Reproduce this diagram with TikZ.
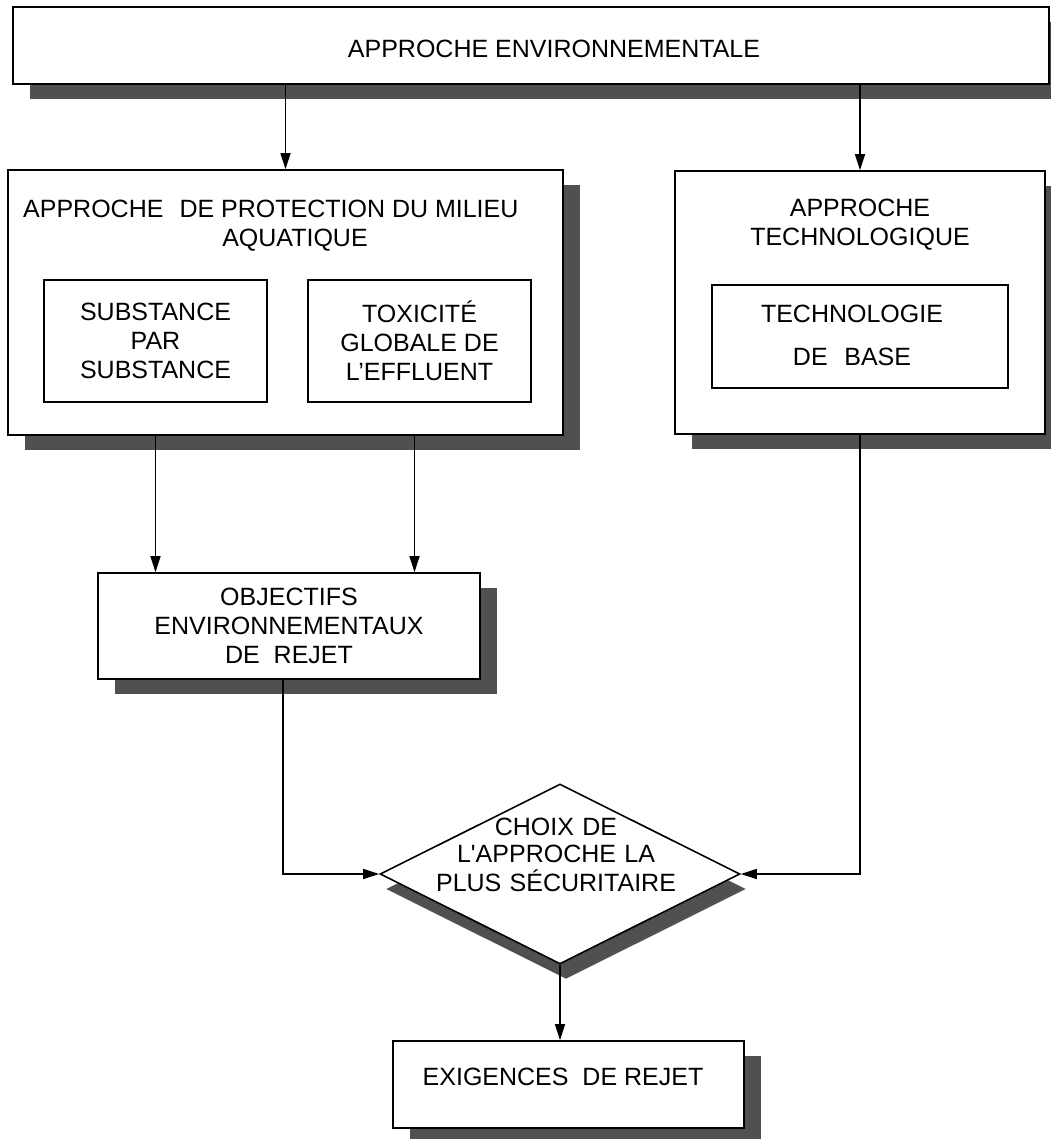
\documentclass[tikz,border=0pt]{standalone}
\usepackage{fontspec}
\setmainfont{Liberation Sans}
\usetikzlibrary{positioning, calc, shapes.geometric, shadows, arrows.meta}
\definecolor{ink}{HTML}{000000}
\definecolor{shade}{HTML}{505050}
\newcommand{\BoxF}{\fontsize{25}{29}\selectfont}

\begin{document}
\begin{tikzpicture}[x=1pt, y=-1pt,
    frame/.style={draw=ink, line width=1.6pt, fill=white, inner sep=0pt},
    panel/.style={frame,
      drop shadow={shadow xshift=17pt, shadow yshift=-15pt, fill=shade, opacity=1}},
    subpanel/.style={draw=ink, line width=1.3pt, fill=white, inner sep=0pt,
      font=\BoxF, align=center},
    txt/.style={font=\BoxF, inner sep=0pt, align=center},
    link/.style={draw=ink, line width=1.3pt, -{Triangle[length=16pt, width=10pt]}}]
  \useasboundingbox (0,0) rectangle (1050,1139);

  % top level
  \node[panel, minimum width=1036pt, minimum height=77pt] (envbox) at (531,45.5) {};
  \node[txt, anchor=base] (envtxt) at (554,58) {APPROCHE ENVIRONNEMENTALE};

  % aquatic approach
  \node[panel, minimum width=555pt, minimum height=265pt] (aquabox) at (285.5,302.5) {};
  \node[txt, anchor=base west] (aquatxt) at (23,218)
    {APPROCHE\hspace{16pt}DE PROTECTION DU MILIEU};
  \node[txt, anchor=base] (aquatxtb) at (295,247) {AQUATIQUE};
  \node[subpanel, minimum width=223pt, minimum height=122pt] (subst) at (155.5,341)
    {SUBSTANCE\\PAR\\SUBSTANCE};
  \node[subpanel, minimum width=223pt, minimum height=122pt] (toxic) at (419.5,341)
    {TOXICITÉ\\GLOBALE DE\\L’EFFLUENT};

  % technological approach
  \node[panel, minimum width=370pt, minimum height=263pt] (techbox) at (860,302.5) {};
  \node[txt, text width=360pt, anchor=base] (techtxt) at (860,217)
    {APPROCHE\\TECHNOLOGIQUE};
  \node[subpanel, minimum width=296pt, minimum height=103pt] (basebox) at (860,336.5) {};
  \node[txt, text width=280pt, anchor=base] (basetxt) at (852,322)
    {TECHNOLOGIE\\[14pt]DE\ \ BASE};

  % objectives
  \node[panel, minimum width=382pt, minimum height=106pt, font=\BoxF, align=center]
    (objbox) at (289,626) {OBJECTIFS\\ENVIRONNEMENTAUX\\DE\ \ REJET};

  % decision
  \node[frame, shape=diamond, minimum width=360pt, minimum height=180pt,
        drop shadow={shadow xshift=6pt, shadow yshift=-15pt, fill=shade, opacity=1}]
    (choice) at (560,874) {};
  \node[txt, text width=300pt, anchor=base] (choicetxt) at (556,835)
    {\fontsize{25}{27}\selectfont CHOIX DE\\L\textquotesingle APPROCHE LA\\PLUS SÉCURITAIRE};

  % requirements
  \node[panel, minimum width=351pt, minimum height=87pt] (exig) at (568.5,1084.5) {};
  \node[txt, anchor=base] (exigtxt) at (563,1085) {EXIGENCES\ \ DE REJET};

  % connectors
  \draw[link] (envbox.south -| aquabox.north) -- (aquabox.north);
  \draw[link] (envbox.south -| techbox.north) -- (techbox.north);
  \draw[link] (subst.south |- aquabox.south) -- (subst.south |- objbox.north);
  \draw[link] ([xshift=-5pt]toxic.south |- aquabox.south) -- ([xshift=-5pt]toxic.south |- objbox.north);
  \draw[link] ([xshift=-6pt]objbox.south) |- (choice.west);
  \draw[link] (techbox.south) |- (choice.east);
  \draw[link] (choice.south) -- (choice.south |- exig.north);
\end{tikzpicture}
\end{document}
